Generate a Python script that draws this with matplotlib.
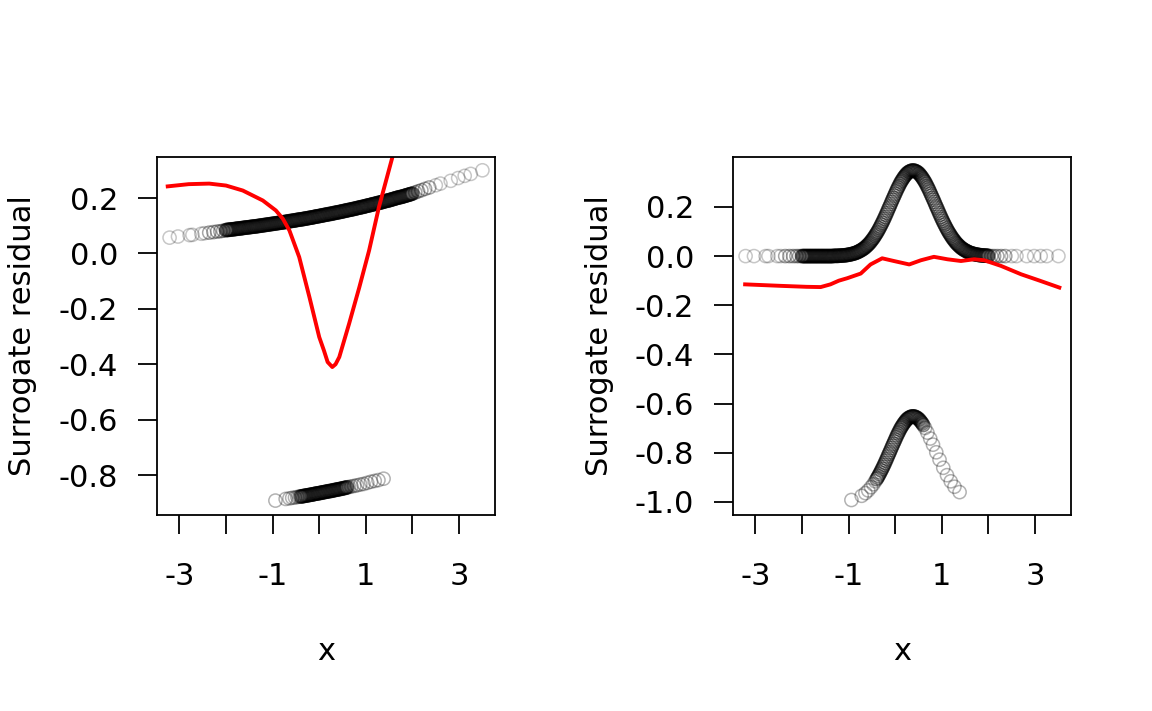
import matplotlib
matplotlib.use("Agg")
import matplotlib.pyplot as plt

plt.rcParams["font.family"] = "DejaVu Sans"
plt.rcParams["axes.unicode_minus"] = False

# ---- data ----
# dense band of points (same x in both panels)
x_band = [
    -2.00, -1.98, -1.96, -1.94, -1.92, -1.90, -1.88, -1.86, -1.84, -1.82,
    -1.80, -1.78, -1.76, -1.74, -1.72, -1.70, -1.68, -1.66, -1.64, -1.62,
    -1.60, -1.58, -1.56, -1.54, -1.52, -1.50, -1.48, -1.46, -1.44, -1.42,
    -1.40, -1.38, -1.36, -1.34, -1.32, -1.30, -1.28, -1.26, -1.24, -1.22,
    -1.20, -1.18, -1.16, -1.14, -1.12, -1.10, -1.08, -1.06, -1.04, -1.02,
    -1.00, -0.98, -0.96, -0.94, -0.92, -0.90, -0.88, -0.86, -0.84, -0.82,
    -0.80, -0.78, -0.76, -0.74, -0.72, -0.70, -0.68, -0.66, -0.64, -0.62,
    -0.60, -0.58, -0.56, -0.54, -0.52, -0.50, -0.48, -0.46, -0.44, -0.42,
    -0.40, -0.38, -0.36, -0.34, -0.32, -0.30, -0.28, -0.26, -0.24, -0.22,
    -0.20, -0.18, -0.16, -0.14, -0.12, -0.10, -0.08, -0.06, -0.04, -0.02,
    0.00, 0.02, 0.04, 0.06, 0.08, 0.10, 0.12, 0.14, 0.16, 0.18,
    0.20, 0.22, 0.24, 0.26, 0.28, 0.30, 0.32, 0.34, 0.36, 0.38,
    0.40, 0.42, 0.44, 0.46, 0.48, 0.50, 0.52, 0.54, 0.56, 0.58,
    0.60, 0.62, 0.64, 0.66, 0.68, 0.70, 0.72, 0.74, 0.76, 0.78,
    0.80, 0.82, 0.84, 0.86, 0.88, 0.90, 0.92, 0.94, 0.96, 0.98,
    1.00, 1.02, 1.04, 1.06, 1.08, 1.10, 1.12, 1.14, 1.16, 1.18,
    1.20, 1.22, 1.24, 1.26, 1.28, 1.30, 1.32, 1.34, 1.36, 1.38,
    1.40, 1.42, 1.44, 1.46, 1.48, 1.50, 1.52, 1.54, 1.56, 1.58,
    1.60, 1.62, 1.64, 1.66, 1.68, 1.70, 1.72, 1.74, 1.76, 1.78,
    1.80, 1.82, 1.84, 1.86, 1.88, 1.90, 1.92, 1.94, 1.96, 1.98,
    2.00,
]
y_band_left = [
    0.084, 0.085, 0.085, 0.085, 0.086, 0.086, 0.087, 0.087, 0.087, 0.088,
    0.088, 0.089, 0.089, 0.090, 0.090, 0.090, 0.091, 0.091, 0.092, 0.092,
    0.093, 0.093, 0.094, 0.094, 0.094, 0.095, 0.095, 0.096, 0.096, 0.097,
    0.097, 0.097, 0.098, 0.098, 0.099, 0.099, 0.100, 0.100, 0.101, 0.101,
    0.102, 0.102, 0.103, 0.103, 0.104, 0.104, 0.105, 0.105, 0.106, 0.106,
    0.107, 0.107, 0.108, 0.108, 0.109, 0.109, 0.110, 0.110, 0.111, 0.111,
    0.112, 0.112, 0.113, 0.113, 0.114, 0.114, 0.115, 0.116, 0.116, 0.117,
    0.117, 0.118, 0.118, 0.119, 0.119, 0.120, 0.121, 0.121, 0.122, 0.122,
    0.123, 0.123, 0.124, 0.124, 0.125, 0.126, 0.126, 0.127, 0.127, 0.128,
    0.129, 0.129, 0.130, 0.130, 0.131, 0.132, 0.133, 0.133, 0.134, 0.134,
    0.135, 0.136, 0.136, 0.137, 0.138, 0.138, 0.139, 0.140, 0.140, 0.141,
    0.142, 0.142, 0.143, 0.143, 0.144, 0.145, 0.146, 0.146, 0.147, 0.148,
    0.148, 0.149, 0.150, 0.150, 0.151, 0.152, 0.153, 0.153, 0.154, 0.155,
    0.156, 0.156, 0.157, 0.158, 0.158, 0.159, 0.160, 0.161, 0.161, 0.162,
    0.163, 0.164, 0.165, 0.165, 0.166, 0.167, 0.168, 0.168, 0.169, 0.170,
    0.171, 0.172, 0.173, 0.173, 0.174, 0.175, 0.176, 0.177, 0.178, 0.178,
    0.179, 0.180, 0.181, 0.182, 0.183, 0.183, 0.184, 0.185, 0.186, 0.187,
    0.188, 0.189, 0.190, 0.190, 0.191, 0.192, 0.193, 0.194, 0.195, 0.196,
    0.197, 0.198, 0.199, 0.200, 0.201, 0.202, 0.203, 0.203, 0.204, 0.205,
    0.206, 0.207, 0.208, 0.209, 0.210, 0.211, 0.212, 0.213, 0.214, 0.215,
    0.216,
]
y_band_right = [
    0.0, 0.0, 0.0, 0.0, 0.0, 0.0, 0.0, 0.0, 0.0, 0.0,
    0.0, 0.0, 0.0, 0.0, 0.0, 0.0, 0.0, 0.0, 0.0, 0.0,
    0.0, 0.0, 0.0, 0.0, 0.0, 0.0, 0.0, 0.0, 0.0, 0.0,
    0.0, 0.0, 0.0, 0.0, 0.001, 0.001, 0.001, 0.001, 0.001, 0.001,
    0.002, 0.002, 0.002, 0.002, 0.003, 0.003, 0.003, 0.004, 0.004, 0.005,
    0.006, 0.006, 0.007, 0.008, 0.009, 0.010, 0.011, 0.012, 0.014, 0.015,
    0.017, 0.019, 0.021, 0.023, 0.025, 0.028, 0.030, 0.033, 0.036, 0.040,
    0.043, 0.047, 0.051, 0.055, 0.060, 0.065, 0.070, 0.075, 0.081, 0.087,
    0.093, 0.099, 0.106, 0.113, 0.120, 0.128, 0.135, 0.143, 0.151, 0.159,
    0.168, 0.176, 0.185, 0.194, 0.202, 0.211, 0.220, 0.229, 0.237, 0.246,
    0.254, 0.263, 0.271, 0.279, 0.286, 0.294, 0.301, 0.307, 0.313, 0.319,
    0.324, 0.329, 0.334, 0.337, 0.341, 0.343, 0.345, 0.347, 0.348, 0.348,
    0.348, 0.347, 0.345, 0.343, 0.341, 0.337, 0.334, 0.329, 0.324, 0.319,
    0.313, 0.307, 0.301, 0.294, 0.286, 0.279, 0.271, 0.263, 0.254, 0.246,
    0.237, 0.229, 0.220, 0.211, 0.202, 0.194, 0.185, 0.176, 0.168, 0.159,
    0.151, 0.143, 0.135, 0.128, 0.120, 0.113, 0.106, 0.099, 0.093, 0.087,
    0.081, 0.075, 0.070, 0.065, 0.060, 0.055, 0.051, 0.047, 0.043, 0.040,
    0.036, 0.033, 0.030, 0.028, 0.025, 0.023, 0.021, 0.019, 0.017, 0.015,
    0.014, 0.012, 0.011, 0.010, 0.009, 0.008, 0.007, 0.006, 0.006, 0.005,
    0.004, 0.004, 0.003, 0.003, 0.003, 0.002, 0.002, 0.002, 0.002, 0.001,
    0.001,
]

# points just outside the dense band
x_edge = [-2.36, -2.27, -2.19, -2.12, -2.06, 2.06, 2.12, 2.19, 2.27, 2.36]
y_edge_left = [0.075, 0.077, 0.079, 0.080, 0.082, 0.220, 0.224, 0.228, 0.233, 0.238]
y_edge_right = [0.0, 0.0, 0.0, 0.0, 0.0, 0.0, 0.0, 0.0, 0.0, 0.0]

# isolated points in the far tails
x_tail = [-3.21, -3.03, -2.78, -2.72, -2.53, -2.46, 2.50, 2.60, 2.82, 2.98, 3.12, 3.25, 3.50]
y_tail_left = [0.057, 0.061, 0.066, 0.067, 0.071, 0.073, 0.246, 0.252, 0.262, 0.272, 0.280, 0.287, 0.300]
y_tail_right = [0.0, 0.0, 0.0, 0.0, 0.0, 0.0, 0.0, 0.0, 0.0, 0.0, 0.0, 0.0, 0.0]

# lower group of points: dense core
x_low = [
    -0.40, -0.38, -0.36, -0.34, -0.32, -0.30, -0.28, -0.26, -0.24, -0.22,
    -0.20, -0.18, -0.16, -0.14, -0.12, -0.10, -0.08, -0.06, -0.04, -0.02,
    0.00, 0.02, 0.04, 0.06, 0.08, 0.10, 0.12, 0.14, 0.16, 0.18,
    0.20, 0.22, 0.24, 0.26, 0.28, 0.30, 0.32, 0.34, 0.36, 0.38,
    0.40, 0.42, 0.44, 0.46, 0.48, 0.50, 0.52, 0.54, 0.56, 0.58,
    0.60,
]
y_low_left = [
    -0.877, -0.877, -0.876, -0.876, -0.875, -0.874, -0.874, -0.873, -0.873, -0.872,
    -0.871, -0.871, -0.870, -0.870, -0.869, -0.868, -0.867, -0.867, -0.866, -0.866,
    -0.865, -0.864, -0.864, -0.863, -0.862, -0.862, -0.861, -0.860, -0.860, -0.859,
    -0.858, -0.858, -0.857, -0.857, -0.856, -0.855, -0.854, -0.854, -0.853, -0.852,
    -0.852, -0.851, -0.850, -0.850, -0.849, -0.848, -0.847, -0.847, -0.846, -0.845,
    -0.844,
]
y_low_right = [
    -0.907, -0.901, -0.894, -0.887, -0.880, -0.872, -0.865, -0.857, -0.849, -0.841,
    -0.832, -0.824, -0.815, -0.806, -0.798, -0.789, -0.780, -0.771, -0.763, -0.754,
    -0.746, -0.737, -0.729, -0.721, -0.714, -0.706, -0.699, -0.693, -0.687, -0.681,
    -0.676, -0.671, -0.666, -0.663, -0.659, -0.657, -0.655, -0.653, -0.652, -0.652,
    -0.652, -0.653, -0.655, -0.657, -0.659, -0.663, -0.666, -0.671, -0.676, -0.681,
    -0.687,
]

# lower group of points: sparse ends
x_low_ends = [-0.94, -0.72, -0.64, -0.58, -0.52, -0.47, -0.43,
              0.64, 0.69, 0.75, 0.81, 0.88, 0.95, 1.03, 1.11, 1.19, 1.27, 1.38]
y_low_ends_left = [-0.892, -0.886, -0.884, -0.882, -0.881, -0.879, -0.878,
                   -0.843, -0.841, -0.839, -0.837, -0.834, -0.832, -0.828, -0.824, -0.821, -0.818, -0.813]
y_low_ends_right = [-0.992, -0.975, -0.964, -0.953, -0.940, -0.928, -0.916,
                    -0.699, -0.718, -0.742, -0.767, -0.798, -0.828, -0.861, -0.891, -0.916, -0.938, -0.960]

# red smooth curves
red_x_left = [-3.25, -2.80, -2.36, -2.00, -1.64, -1.21, -0.93, -0.78, -0.64, -0.43, -0.21,
              0.00, 0.10, 0.18, 0.28, 0.35, 0.43, 0.64, 0.86, 1.07, 1.28, 1.57, 1.70]
red_y_left = [0.242, 0.250, 0.252, 0.245, 0.227, 0.191, 0.155, 0.125, 0.083, -0.013, -0.158,
              -0.302, -0.350, -0.392, -0.410, -0.400, -0.374, -0.254, -0.122, 0.011, 0.167, 0.348, 0.400]
red_x_right = [-3.22, -2.46, -1.90, -1.60, -1.39, -1.21, -1.03, -0.74, -0.53, -0.28, -0.03,
               0.30, 0.55, 0.83, 1.12, 1.41, 1.69, 1.91, 2.27, 2.70, 3.10, 3.52]
red_y_right = [-0.115, -0.121, -0.125, -0.126, -0.115, -0.100, -0.090, -0.071, -0.034, -0.009, -0.020,
               -0.034, -0.017, -0.003, -0.013, -0.020, -0.013, -0.017, -0.040, -0.074, -0.100, -0.128]

y_ticks_left = [-0.8, -0.6, -0.4, -0.2, 0.0, 0.2]
y_ticks_right = [-1.0, -0.8, -0.6, -0.4, -0.2, 0.0, 0.2]
x_ticks = [-3, -2, -1, 0, 1, 2, 3]
x_tick_labels = ["-3", "", "-1", "", "1", "", "3"]

W, H = 1152, 711
fig = plt.figure(figsize=(W / 100, H / 100), dpi=100)
ax1 = fig.add_axes([157 / W, 1 - 515 / H, 338 / W, 358 / H])
ax2 = fig.add_axes([733 / W, 1 - 515 / H, 338 / W, 358 / H])

FS = 22


def ring_style(alpha):
    return dict(s=90, facecolors="none", edgecolors=(0, 0, 0, alpha), linewidths=1.1)


panels = [
    (ax1, y_band_left, y_edge_left, y_tail_left, y_low_left, y_low_ends_left,
     red_x_left, red_y_left, (-0.944, 0.348), y_ticks_left),
    (ax2, y_band_right, y_edge_right, y_tail_right, y_low_right, y_low_ends_right,
     red_x_right, red_y_right, (-1.053, 0.403), y_ticks_right),
]

for ax, yb, ye, yt, yl, yle, rx, ry, ylim, yticks in panels:
    ax.scatter(x_tail, yt, **ring_style(0.22))
    ax.scatter(x_edge, ye, **ring_style(0.35))
    ax.scatter(x_band, yb, **ring_style(0.5))
    ax.scatter(x_low_ends, yle, **ring_style(0.3))
    ax.scatter(x_low, yl, **ring_style(0.5))
    ax.plot(rx, ry, color="#ff0000", lw=2.8)
    ax.set_xlim(-3.48, 3.77)
    ax.set_ylim(*ylim)
    ax.set_xticks(x_ticks)
    ax.set_xticklabels(x_tick_labels)
    ax.set_yticks(yticks)
    ax.set_yticklabels(["%.1f" % v for v in yticks])
    ax.tick_params(axis="x", length=14, width=1.3, pad=20, labelsize=FS)
    ax.tick_params(axis="y", length=14, width=1.3, pad=14, labelsize=FS)
    for sp in ax.spines.values():
        sp.set_linewidth(1.3)
    ax.set_xlabel("x", fontsize=FS)
    ax.xaxis.set_label_coords(0.5, -137 / 358)
    ax.xaxis.label.set_va("center")
    ax.set_ylabel("Surrogate residual", fontsize=FS)
    ax.yaxis.set_label_coords(-134 / 338, 0.5)
    ax.yaxis.label.set_va("center")

fig.savefig("out.png", dpi=100, facecolor="white")
